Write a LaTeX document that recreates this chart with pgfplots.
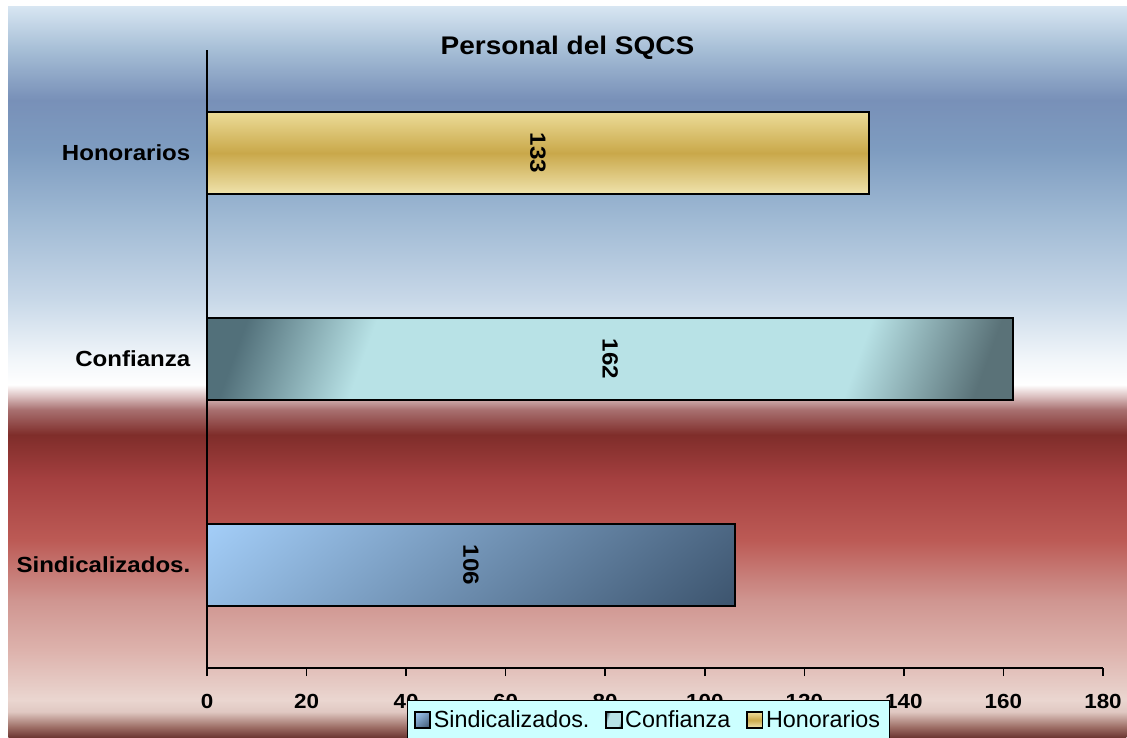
\documentclass[border=0pt]{standalone}
\usepackage{pgfplots}
\pgfplotsset{compat=1.18}
\usepackage{pgfplotstable}
\usepackage{fontspec}
\setmainfont{Liberation Sans}[FakeStretch=1.1]
\newfontfamily\legfont{Liberation Sans}

\definecolor{sinTop}{HTML}{A2CCF6}
\definecolor{sinBot}{HTML}{3E5670}
\definecolor{conLight}{HTML}{B8E2E6}
\definecolor{conDark}{HTML}{52707A}
\definecolor{conDarkB}{HTML}{5A7278}
\definecolor{honLight}{HTML}{ECDC98}
\definecolor{honDark}{HTML}{C9A84A}
\definecolor{legbg}{HTML}{CCFFFF}

\definecolor{bgA}{HTML}{6A3530}
\definecolor{bgB}{HTML}{9A6A62}
\definecolor{bgC}{HTML}{E0C8C2}
\definecolor{bgD}{HTML}{EAD6D0}
\definecolor{bgE}{HTML}{DDB2AC}
\definecolor{bgF}{HTML}{CF9590}
\definecolor{bgG}{HTML}{BC5A55}
\definecolor{bgH}{HTML}{A54040}
\definecolor{bgI}{HTML}{7F2D2A}
\definecolor{bgJ}{HTML}{A87070}
\definecolor{bgK}{HTML}{E0C8C8}
\definecolor{bgL}{HTML}{FFFFFF}
\definecolor{bgM}{HTML}{F2F6FA}
\definecolor{bgN}{HTML}{C8D8E8}
\definecolor{bgO}{HTML}{A0BAD4}
\definecolor{bgP}{HTML}{7E9CC0}
\definecolor{bgQ}{HTML}{7890B8}
\definecolor{bgR}{HTML}{A6BED6}
\definecolor{bgS}{HTML}{D8E6F2}

\pgfdeclareverticalshading{bgsh}{838.5pt}{color(0pt)=(bgA); color(7.5pt)=(bgB); color(19.5pt)=(bgC); color(28.5pt)=(bgD); color(66pt)=(bgE); color(103.5pt)=(bgF); color(148.5pt)=(bgG); color(193.5pt)=(bgH); color(227.25pt)=(bgI); color(246pt)=(bgJ); color(257.25pt)=(bgK); color(264.75pt)=(bgL); color(283.5pt)=(bgM); color(328.5pt)=(bgN); color(388.5pt)=(bgO); color(441pt)=(bgP); color(478.5pt)=(bgQ); color(516pt)=(bgR); color(549pt)=(bgS)}

\pgfdeclarehorizontalshading{consh}{100bp}{color(0bp)=(conDark); color(21bp)=(conDark); color(31bp)=(conLight); color(69bp)=(conLight); color(79bp)=(conDarkB); color(100bp)=(conDarkB)}
\pgfdeclarehorizontalshading{sinsh}{100bp}{color(0bp)=(sinTop); color(16bp)=(sinTop); color(84bp)=(sinBot); color(100bp)=(sinBot)}

\pgfplotstableread{
c v
0 106
1 162
2 133
}\datatable

\begin{document}
\begin{tikzpicture}[x=0.75pt, y=0.75pt]
\fill[white] (0,0) rectangle (1127,738);
\clip (0,0) rectangle (1127,738);
\node[inner sep=0pt, anchor=south west] at (8,0) {\pgfuseshading{bgsh}};
\node[font=\bfseries\fontsize{19.1}{21}\selectfont, anchor=base] at (567.5,683) {Personal del SQCS};
\begin{axis}[
  at={(155.25pt,52.5pt)}, anchor=south west,
  scale only axis, width=672pt, height=463.5pt,
  xmin=0, xmax=180, ymin=-0.5, ymax=2.5,
  axis x line*=bottom, axis y line*=left,
  axis line style={line width=1.5pt, black},
  xtick={0,20,...,180}, ytick={0,1,2},
  yticklabels={Sindicalizados., Confianza, Honorarios},
  tick align=outside, major tick length=6pt,
  xtick style={line width=1.2pt, black}, ytick style={draw=none},
  /pgf/number format/assume math mode=true,
  xticklabel style={font=\bfseries\fontsize{15.3}{17}\selectfont, yshift=-10pt},
  yticklabel style={font=\bfseries\fontsize{16.4}{18}\selectfont, xshift=-3pt},
  legend style={at={(0.4927,-0.051)}, anchor=north, legend columns=-1,
    fill=legbg, draw=black, line width=1pt, inner ysep=6pt, inner xsep=5pt,
    font=\legfont\fontsize{17.5}{20}\selectfont,
    /tikz/every even column/.append style={column sep=10pt}},
  legend image code/.code={\draw[#1, line width=1.3pt] (0pt,-5.5pt) rectangle (11.5pt,6pt);},
]
\addplot[xbar, bar shift=0pt, bar width=0.4, draw=black, line width=1.5pt, shading=sinsh, shading angle=-50] coordinates {(106,0)};
\addplot[xbar, bar shift=0pt, bar width=0.4, draw=black, line width=1.5pt, shading=consh, shading angle=-20] coordinates {(162,1)};
\addplot[xbar, bar shift=0pt, bar width=0.4, draw=black, line width=1.5pt, top color=honLight, bottom color=honLight!80!white, middle color=honDark] coordinates {(133,2)};
\legend{Sindicalizados., Confianza, Honorarios\hspace{7pt}}
\addplot[forget plot, only marks, mark=none, nodes near coords, point meta=explicit symbolic,
  every node near coord/.style={rotate=-90, anchor=center, font=\bfseries\fontsize{16.5}{18}\selectfont}]
  table[x expr=\thisrow{v}/2, y=c, meta=v] {\datatable};
\end{axis}
\end{tikzpicture}
\end{document}
